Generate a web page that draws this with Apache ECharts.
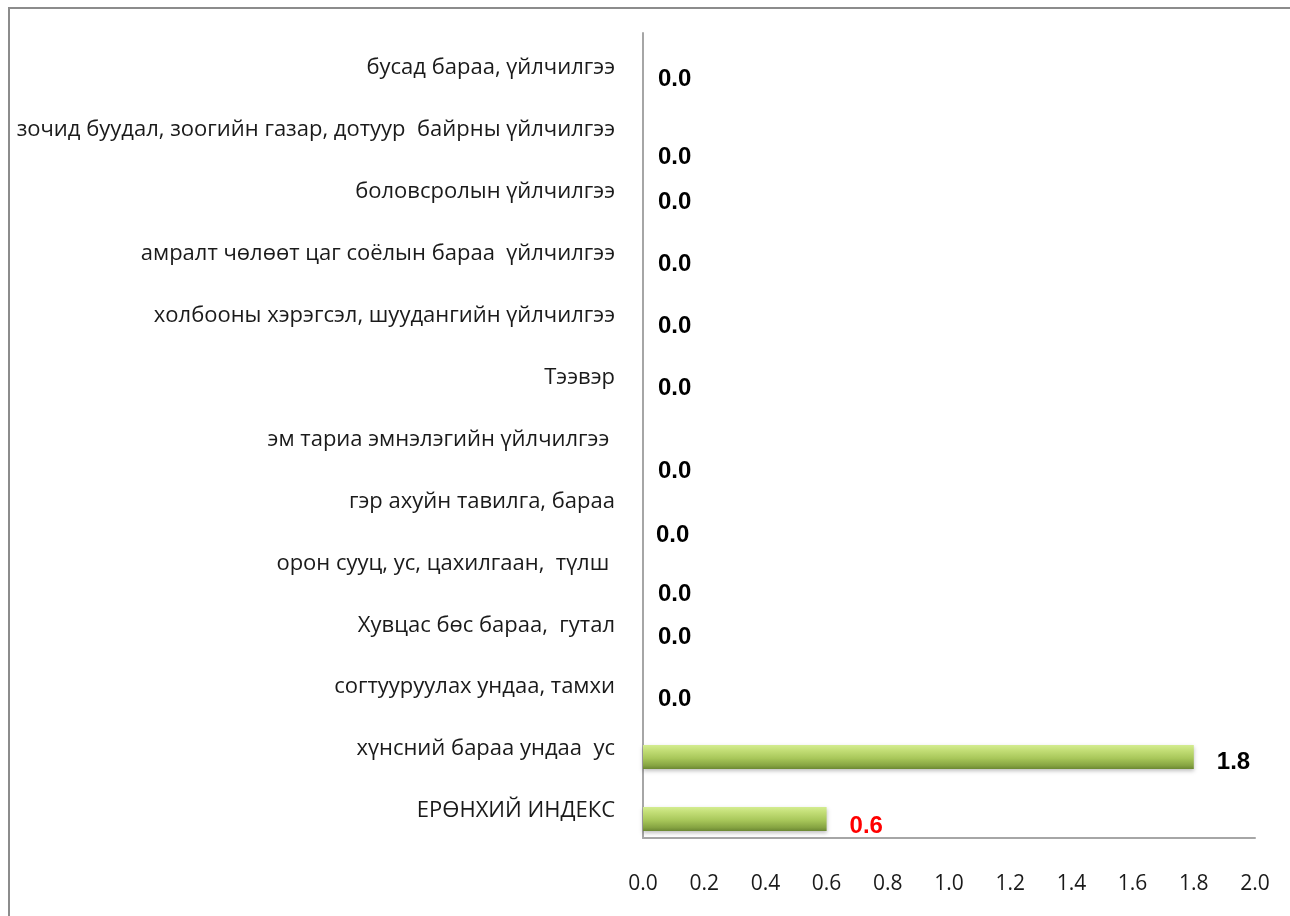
<!DOCTYPE html>
<html>
<head>
<meta charset="utf-8">
<script src="https://cdn.jsdelivr.net/npm/echarts@6/dist/echarts.min.js"></script>
<style>
html,body{margin:0;padding:0;background:#fff;}
#frame{position:absolute;left:8px;top:7px;width:1290px;height:920px;border-left:2px solid #8c8c8c;border-top:2px solid #8c8c8c;}
#chart{position:absolute;left:0;top:0;width:1290px;height:916px;}
</style>
</head>
<body>
<div id="frame"></div>
<div id="chart"></div>
<script>
// Categories, top to bottom
const categories = [
  "бусад бараа, үйлчилгээ",
  "зочид буудал, зоогийн газар, дотуур  байрны үйлчилгээ",
  "боловсролын үйлчилгээ",
  "амралт чөлөөт цаг соёлын бараа  үйлчилгээ",
  "холбооны хэрэгсэл, шуудангийн үйлчилгээ",
  "Тээвэр",
  "эм тариа эмнэлэгийн үйлчилгээ ",
  "гэр ахуйн тавилга, бараа",
  "орон сууц, ус, цахилгаан,  түлш ",
  "Хувцас бөс бараа,  гутал",
  "согтууруулах ундаа, тамхи",
  "хүнсний бараа ундаа  ус",
  "ЕРӨНХИЙ ИНДЕКС"
];
const values = [0, 0, 0, 0, 0, 0, 0, 0, 0, 0, 0, 1.8, 0.6];
const xTicks = [0.0, 0.2, 0.4, 0.6, 0.8, 1.0, 1.2, 1.4, 1.6, 1.8, 2.0];

// label nudges (manual placement in original chart), per category
const labelDy = [3, 19, 3, 3, 3, 3, 24, 26, 23, 4, 4, 5, 7];
const labelDx = [0, 0, 0, 0, 0, 0, 0, -2, 0, 0, 0, 8, 8];
const labelColors = ["#000","#000","#000","#000","#000","#000","#000","#000","#000","#000","#000","#000","#ff0000"];

const chart = echarts.init(document.getElementById('chart'), null, {renderer: 'canvas'});

const barColor = new echarts.graphic.LinearGradient(0, 0, 0, 1, [
  {offset: 0, color: '#d3ec90'},
  {offset: 0.2, color: '#c4df78'},
  {offset: 0.55, color: '#a8c75a'},
  {offset: 0.85, color: '#86a442'},
  {offset: 1, color: '#6b8733'}
]);

const option = {
  animation: false,
  backgroundColor: 'transparent',
  grid: [
    {left: 643, width: 612, top: 45, height: 805, containLabel: false},
    {left: 643, width: 612, top: 33, height: 805, containLabel: false}
  ],
  xAxis: [
    {gridIndex: 0, type: 'value', min: xTicks[0], max: xTicks[xTicks.length-1], interval: 0.2, show: false},
    {gridIndex: 1, type: 'value', min: xTicks[0], max: xTicks[xTicks.length-1], interval: 0.2,
      axisLine: {show: true, onZero: false, lineStyle: {color: '#a6a6a6', width: 2}},
      axisTick: {show: false}, splitLine: {show: false},
      axisLabel: {margin: 36, color: '#1a1a1a', fontFamily: 'Open Sans', fontSize: 21,
        formatter: v => v.toFixed(1)}}
  ],
  yAxis: [
    {gridIndex: 0, type: 'category', data: categories, inverse: true,
      axisLine: {show: false}, axisTick: {show: false}, splitLine: {show: false},
      axisLabel: {margin: 28, color: '#1a1a1a', fontFamily: 'Open Sans', fontSize: 22,
        verticalAlign: 'bottom', lineHeight: 16}},
    {gridIndex: 1, type: 'category', data: categories, inverse: true,
      axisLine: {show: true, lineStyle: {color: '#a6a6a6', width: 2}},
      axisTick: {show: false}, axisLabel: {show: false}, splitLine: {show: false}}
  ],
  series: [{
    type: 'bar',
    xAxisIndex: 0, yAxisIndex: 0,
    barWidth: 24,
    itemStyle: {color: barColor, shadowColor: 'rgba(0,0,0,0.25)', shadowBlur: 4, shadowOffsetY: 2},
    label: {show: true, position: 'right', distance: 15, fontFamily: 'Liberation Sans', fontWeight: 'bold', fontSize: 24,
      formatter: p => p.value.toFixed(1)},
    data: values.map((v, i) => ({
      value: v,
      label: {offset: [labelDx[i], labelDy[i]], color: labelColors[i]}
    }))
  }]
};
chart.setOption(option);
</script>
</body>
</html>
